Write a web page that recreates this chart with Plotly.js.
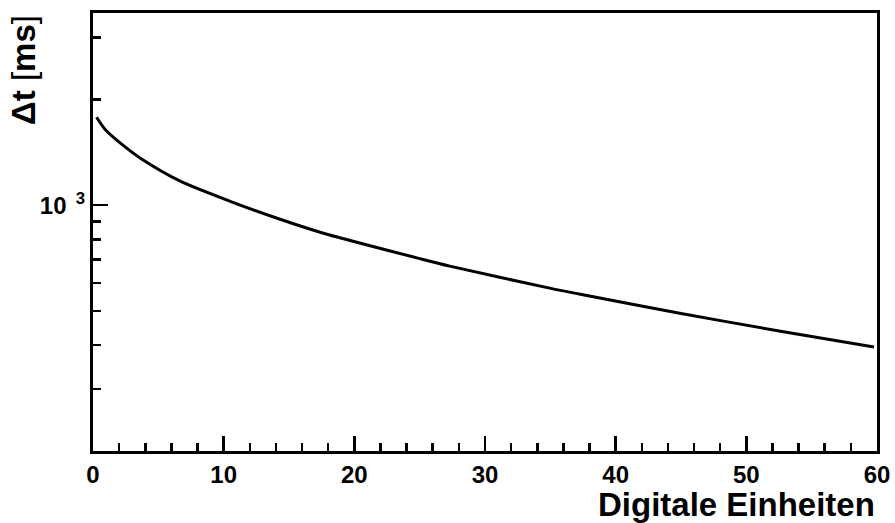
<!DOCTYPE html>
<html>
<head>
<meta charset="utf-8">
<script src="https://cdn.plot.ly/plotly-3.0.1.min.js"></script>
<style>html,body{margin:0;padding:0;background:#fff;}#chart{width:895px;height:523px;}</style>
</head>
<body>
<div id="chart"></div>
<script>
// Digitale Einheiten (x) vs Δt in ms (y)
const units = [0.27, 0.95, 2.48, 3.63, 6.68, 10.5, 14.32, 17.38, 25.0, 27.3, 34.95, 37.2, 44.9, 52.5, 59.77];
const deltaT = [1778, 1639, 1462, 1360, 1170, 1026, 912, 838, 705, 671, 581, 559, 493, 439, 395];

const xMajorTicks = [0, 10, 20, 30, 40, 50, 60];
const xMinorTicks = [2, 4, 6, 8, 12, 14, 16, 18, 22, 24, 26, 28, 32, 34, 36, 38, 42, 44, 46, 48, 52, 54, 56, 58];
const yMajorTicks = [1000];
const yMajorLabels = ['10<sup>\u00A0\u00A03</sup>'];
const yMinorTicks = [200, 300, 400, 500, 600, 700, 800, 900, 2000, 3000];

const xTitle = 'Digitale Einheiten';
const yTitle = 'Δt <span style="font-weight:normal">[</span>ms<span style="font-weight:normal">]</span>';

const FONT = 'Liberation Sans, Arial, Helvetica, sans-serif';

const trace = {
  x: units, y: deltaT, type: 'scatter', mode: 'lines',
  line: {color: '#000', width: 3, shape: 'spline', smoothing: 0.8}
};

const layout = {
  width: 895, height: 523,
  margin: {l: 93, r: 18, t: 13, b: 72},
  paper_bgcolor: '#fff', plot_bgcolor: '#fff',
  showlegend: false,
  font: {family: FONT, color: '#000', weight: 'bold'},
  xaxis: {
    range: [0, 60],
    tickmode: 'array', tickvals: xMajorTicks, ticktext: xMajorTicks.map(String),
    ticks: 'inside', ticklen: 15, tickwidth: 2.5, tickcolor: '#000',
    minor: {tickmode: 'array', tickvals: xMinorTicks, ticks: 'inside', ticklen: 8, tickwidth: 2.5, tickcolor: '#000', showgrid: false},
    showline: true, linewidth: 3, linecolor: '#000', mirror: true,
    showgrid: false, zeroline: false,
    tickfont: {family: FONT, size: 24, color: '#000', weight: 'bold'}
  },
  yaxis: {
    type: 'log',
    range: [Math.log10(200), Math.log10(3520)],
    tickmode: 'array', tickvals: yMajorTicks, ticktext: yMajorLabels,
    ticks: 'inside', ticklen: 15, tickwidth: 2.5, tickcolor: '#000',
    minor: {tickmode: 'array', tickvals: yMinorTicks, ticks: 'inside', ticklen: 8, tickwidth: 2.5, tickcolor: '#000', showgrid: false},
    showline: true, linewidth: 3, linecolor: '#000', mirror: true,
    showgrid: false, zeroline: false,
    tickfont: {family: FONT, size: 24, color: '#000', weight: 'bold'}
  },
  annotations: [
    {
      text: xTitle, xref: 'paper', yref: 'paper', x: 1, y: 0,
      xanchor: 'right', yanchor: 'top', yshift: -33, showarrow: false,
      font: {family: FONT, size: 33, color: '#000', weight: 'bold'}
    },
    {
      text: yTitle, xref: 'paper', yref: 'paper', x: 0, y: 1,
      xanchor: 'center', yanchor: 'top', xshift: -70, yshift: 0, textangle: -90, showarrow: false,
      font: {family: FONT, size: 33, color: '#000', weight: 'bold'}
    }
  ]
};

Plotly.newPlot('chart', [trace], layout, {displayModeBar: false, staticPlot: true});
</script>
</body>
</html>
